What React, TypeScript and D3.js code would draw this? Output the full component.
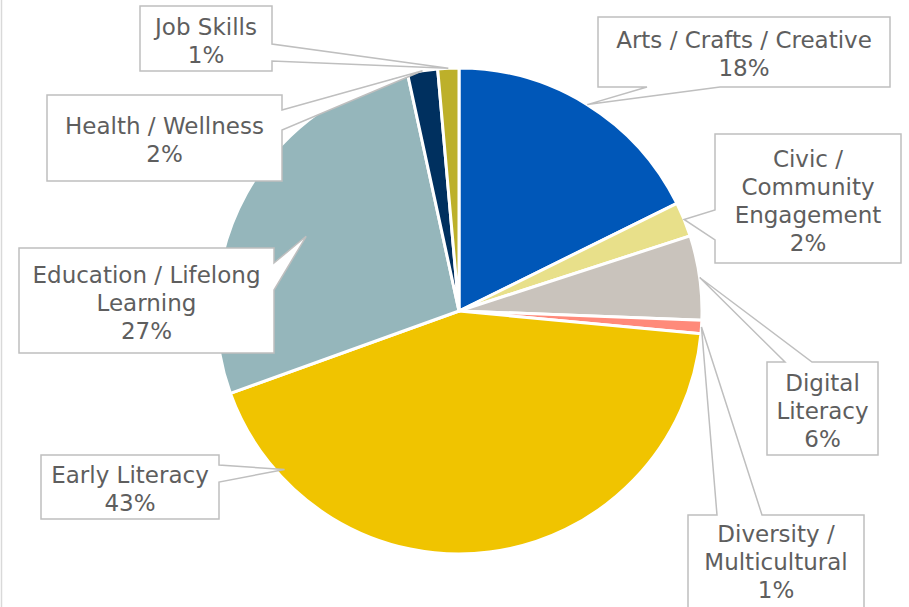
import { useMemo } from 'react'
import * as d3 from 'd3'

const WIDTH = 909
const HEIGHT = 607

// slice data, clockwise from 12 o'clock
const categories = [
    'Arts / Crafts / Creative',
    'Civic / Community Engagement',
    'Digital Literacy',
    'Diversity / Multicultural',
    'Early Literacy',
    'Education / Lifelong Learning',
    'Health / Wellness',
    'Job Skills',
]
const values = [17.7, 2.3, 5.6, 0.9, 43.0, 27.1, 2.0, 1.4]
const sliceColors = ['#0057B8', '#E8E08A', '#C9C3BC', '#FF8A7A', '#F0C400', '#95B6BB', '#00305F', '#BDB02A']
const labelLines = [
    ['Arts / Crafts / Creative'],
    ['Civic /', 'Community', 'Engagement'],
    ['Digital', 'Literacy'],
    ['Diversity /', 'Multicultural'],
    ['Early Literacy'],
    ['Education / Lifelong', 'Learning'],
    ['Health / Wellness'],
    ['Job Skills'],
]

/* callout boxes: box rect, side the pointer leaves from, pointer base along that side,
   and where the tip sits inside the slice (t = fraction of slice angle, rf = fraction of radius) */
const callouts: any[] = [
    { x: 598, y: 17, w: 292, h: 70, side: 'bottom', b1: 647, b2: 720, t: 0.5, rf: 1 },
    { x: 715, y: 134, w: 186, h: 129, side: 'left', b1: 210, b2: 240, t: 0.5, rf: 1 },
    { x: 767, y: 362, w: 111, h: 93, side: 'top', b1: 785, b2: 812, t: 0.5, rf: 1 },
    { x: 688, y: 515, w: 176, h: 110, side: 'top', b1: 717, b2: 762, t: 0.5, rf: 1, dy: -10 },
    { x: 41, y: 455, w: 178, h: 64, side: 'right', b1: 465, b2: 482, t: 0.855, rf: 0.97 },
    { x: 19, y: 248, w: 255, h: 105, side: 'right', b1: 263, b2: 290, t: 0.47, rf: 0.7 },
    { x: 47, y: 95, w: 235, h: 86, side: 'right', b1: 110, b2: 130, t: 0.5, rf: 1 },
    { x: 140, y: 6, w: 132, h: 65, side: 'right', b1: 44, b2: 61, t: 0.5, rf: 1 },
]

const CX = 459
const CY = 311
const R = 243
const LINE_H = 28

function calloutPath(c: any, tip: [number, number]) {
    const x0 = c.x, y0 = c.y, x1 = c.x + c.w, y1 = c.y + c.h
    const pts: [number, number][] = [[x0, y0]]
    if (c.side === 'top') pts.push([c.b1, y0], tip, [c.b2, y0])
    pts.push([x1, y0])
    if (c.side === 'right') pts.push([x1, c.b1], tip, [x1, c.b2])
    pts.push([x1, y1])
    if (c.side === 'bottom') pts.push([c.b2, y1], tip, [c.b1, y1])
    pts.push([x0, y1])
    if (c.side === 'left') pts.push([x0, c.b2], tip, [x0, c.b1])
    return 'M' + pts.map(p => p.join(',')).join('L') + 'Z'
}

export default function App() {
    const arcs = useMemo(() => d3.pie<number>().sort(null).value(d => d)(values), [])
    const arcGen = d3.arc<any>().innerRadius(0).outerRadius(R)
    const total = d3.sum(values)
    const pct = (v: number) => d3.format('.0f')((v / total) * 100) + '%'

    return (
        <svg width={WIDTH} height={HEIGHT} style={{ position: 'absolute', left: 0, top: 0, background: '#fff' }}
            fontFamily="'DejaVu Sans', sans-serif">
            <line x1={1.5} x2={1.5} y1={0} y2={HEIGHT} stroke="#D9D9D9" strokeWidth={1.5} />
            <g transform={`translate(${CX},${CY})`}>
                {arcs.map((a, i) => (
                    <path key={i} d={arcGen(a) as string} fill={sliceColors[i]} stroke="#fff" strokeWidth={3} strokeLinejoin="round" />
                ))}
            </g>
            {arcs.map((a, i) => {
                const c = callouts[i]
                const ang = a.startAngle + (a.endAngle - a.startAngle) * c.t
                const tip: [number, number] = [CX + R * c.rf * Math.sin(ang), CY - R * c.rf * Math.cos(ang)]
                const lines = [...labelLines[i], pct(values[i])]
                const midY = c.y + c.h / 2 + 2 + (c.dy || 0)
                return (
                    <g key={categories[i]}>
                        <path d={calloutPath(c, tip)} fill="#fff" stroke="#BFBFBF" strokeWidth={1.5} />
                        {lines.map((l, j) => (
                            <text key={j} x={c.x + c.w / 2} y={midY + (j - (lines.length - 1) / 2) * LINE_H}
                                textAnchor="middle" dominantBaseline="central" fontSize={23} fill="#5E5E5E">
                                {l}
                            </text>
                        ))}
                    </g>
                )
            })}
        </svg>
    )
}
